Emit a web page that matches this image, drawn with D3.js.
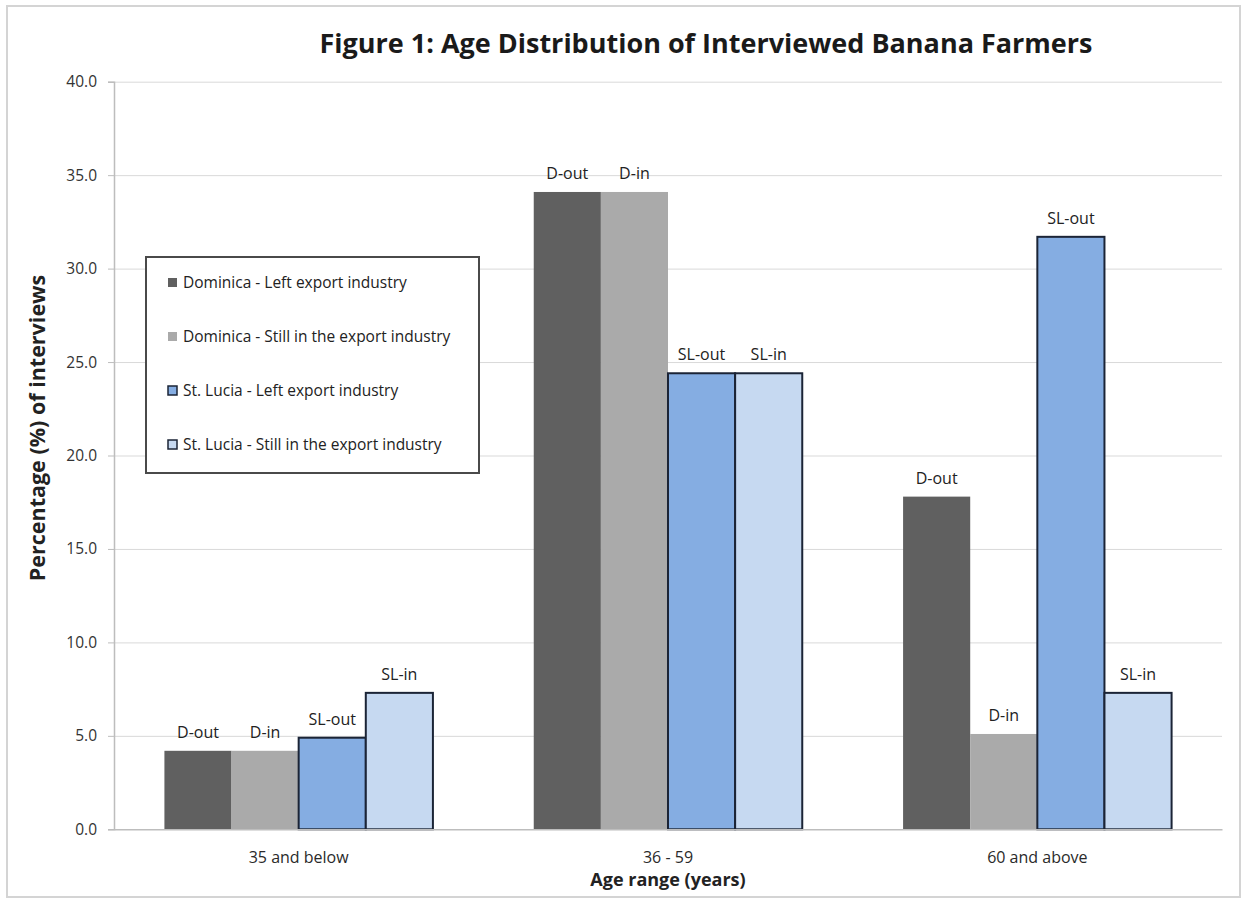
<!DOCTYPE html>
<html>
<head>
<meta charset="utf-8">
<script src="https://cdn.jsdelivr.net/npm/d3@7"></script>
<style>
  html, body { margin: 0; padding: 0; background: #fff; }
  svg text { font-family: "Open Sans", Lato, sans-serif; }
</style>
</head>
<body>
<svg id="chart" width="1242" height="901"></svg>
<script>
// Age groups on the x axis
const categories = ["35 and below", "36 - 59", "60 and above"];

// Series (percent of interviews per country group)
const seriesKeys = ["D-out", "D-in", "SL-out", "SL-in"];
const seriesNames = [
  "Dominica - Left export industry",
  "Dominica - Still in the export industry",
  "St. Lucia - Left export industry",
  "St. Lucia - Still in the export industry"
];
const dominicaOut = [4.2, 34.1, 17.8];
const dominicaIn = [4.2, 34.1, 5.1];
const stLuciaOut = [4.9, 24.4, 31.7];
const stLuciaIn = [7.3, 24.4, 7.3];

// Y axis ticks
const yTicks = [0, 5, 10, 15, 20, 25, 30, 35, 40];

const seriesValues = [dominicaOut, dominicaIn, stLuciaOut, stLuciaIn];
const fills = ["#606060", "#aaaaaa", "#85ade2", "#c6d9f1"];
const strokes = [null, null, "#1b2436", "#1b2436"];

const svg = d3.select("#chart");

// outer frame
svg.append("rect")
  .attr("x", 7).attr("y", 6).attr("width", 1233).attr("height", 891)
  .attr("fill", "none").attr("stroke", "#d4d4d4").attr("stroke-width", 2);

const plotLeft = 114, plotRight = 1222, plotTop = 81.7, plotBottom = 829.3;

const x0 = d3.scaleBand().domain(categories).range([plotLeft, plotRight])
  .paddingInner(0.273).paddingOuter(0.1365);
const x1 = d3.scaleBand().domain(seriesKeys).range([0, x0.bandwidth()]);
const y = d3.scaleLinear().domain([0, 40]).range([plotBottom, plotTop]);

// horizontal gridlines
svg.append("g")
  .attr("transform", `translate(${plotLeft},0)`)
  .call(d3.axisLeft(y).tickValues(yTicks.slice(1)).tickSize(-(plotRight - plotLeft)).tickFormat(""))
  .call(g => g.select(".domain").remove())
  .call(g => g.selectAll("line").attr("stroke", "#d9d9d9").attr("stroke-width", 1));

// y axis
svg.append("g")
  .attr("transform", `translate(${plotLeft},0)`)
  .call(d3.axisLeft(y).tickValues(yTicks).tickSize(6).tickPadding(11).tickFormat(d3.format(".1f")))
  .call(g => g.select(".domain").attr("stroke", "#bdbdbd").attr("stroke-width", 1.5))
  .call(g => g.selectAll("line").attr("stroke", "#bdbdbd"))
  .call(g => g.selectAll("text").attr("fill", "#333").attr("font-size", 15.5)
    .attr("font-family", "'Open Sans', sans-serif"));

// bars
const groups = svg.append("g").selectAll("g")
  .data(categories)
  .join("g")
  .attr("transform", d => `translate(${x0(d)},0)`);

groups.selectAll("rect")
  .data((c, ci) => seriesKeys.map((k, si) => ({ k, si, v: seriesValues[si][ci] })))
  .join("rect")
  .attr("x", d => x1(d.k))
  .attr("y", d => y(d.v))
  .attr("width", x1.bandwidth())
  .attr("height", d => y(0) - y(d.v))
  .attr("fill", d => fills[d.si])
  .attr("stroke", d => strokes[d.si] || "none")
  .attr("stroke-width", 2);

// labels above bars
groups.selectAll("text.lbl")
  .data((c, ci) => seriesKeys.map((k, si) => ({ k, si, v: seriesValues[si][ci] })))
  .join("text")
  .attr("class", "lbl")
  .attr("x", d => x1(d.k) + x1.bandwidth() / 2)
  .attr("y", d => y(d.v) - 13)
  .attr("text-anchor", "middle")
  .attr("font-size", 16)
  .attr("fill", "#222")
  .text(d => d.k);

// x axis
svg.append("g")
  .attr("transform", `translate(0,${plotBottom})`)
  .call(d3.axisBottom(x0).tickSize(0).tickPadding(22))
  .call(g => g.select(".domain").attr("stroke", "#bdbdbd").attr("stroke-width", 1.5))
  .call(g => g.selectAll("text").attr("fill", "#2a2a2a").attr("font-size", 16)
    .attr("font-family", "'Open Sans', sans-serif"));

// title
svg.append("text")
  .attr("x", 706).attr("y", 53)
  .attr("text-anchor", "middle")
  .attr("font-size", 27).attr("font-weight", "bold").attr("fill", "#1a1a1a")
  .text("Figure 1: Age Distribution of Interviewed Banana Farmers");

// axis titles
svg.append("text")
  .attr("transform", "translate(45,428) rotate(-90)")
  .attr("text-anchor", "middle")
  .attr("font-size", 21.5).attr("font-weight", "bold").attr("fill", "#222")
  .text("Percentage (%) of interviews");

svg.append("text")
  .attr("x", (plotLeft + plotRight) / 2).attr("y", 886)
  .attr("text-anchor", "middle")
  .attr("font-size", 18).attr("font-weight", "bold").attr("fill", "#222")
  .text("Age range (years)");

// legend
const legend = svg.append("g");
legend.append("rect")
  .attr("x", 146).attr("y", 257).attr("width", 333).attr("height", 216)
  .attr("fill", "#fff").attr("stroke", "#4a4a4a").attr("stroke-width", 2);

const rows = legend.selectAll("g.row")
  .data(seriesNames)
  .join("g")
  .attr("class", "row")
  .attr("transform", (d, i) => `translate(168,${288 + i * 54})`);

rows.append("rect")
  .attr("x", 0).attr("y", -10).attr("width", 9).attr("height", 9)
  .attr("fill", (d, i) => fills[i])
  .attr("stroke", (d, i) => strokes[i] || "none")
  .attr("stroke-width", 1.5);

rows.append("text")
  .attr("x", 15).attr("y", 0)
  .attr("font-size", 15.5).attr("fill", "#222")
  .text(d => d);
</script>
</body>
</html>
